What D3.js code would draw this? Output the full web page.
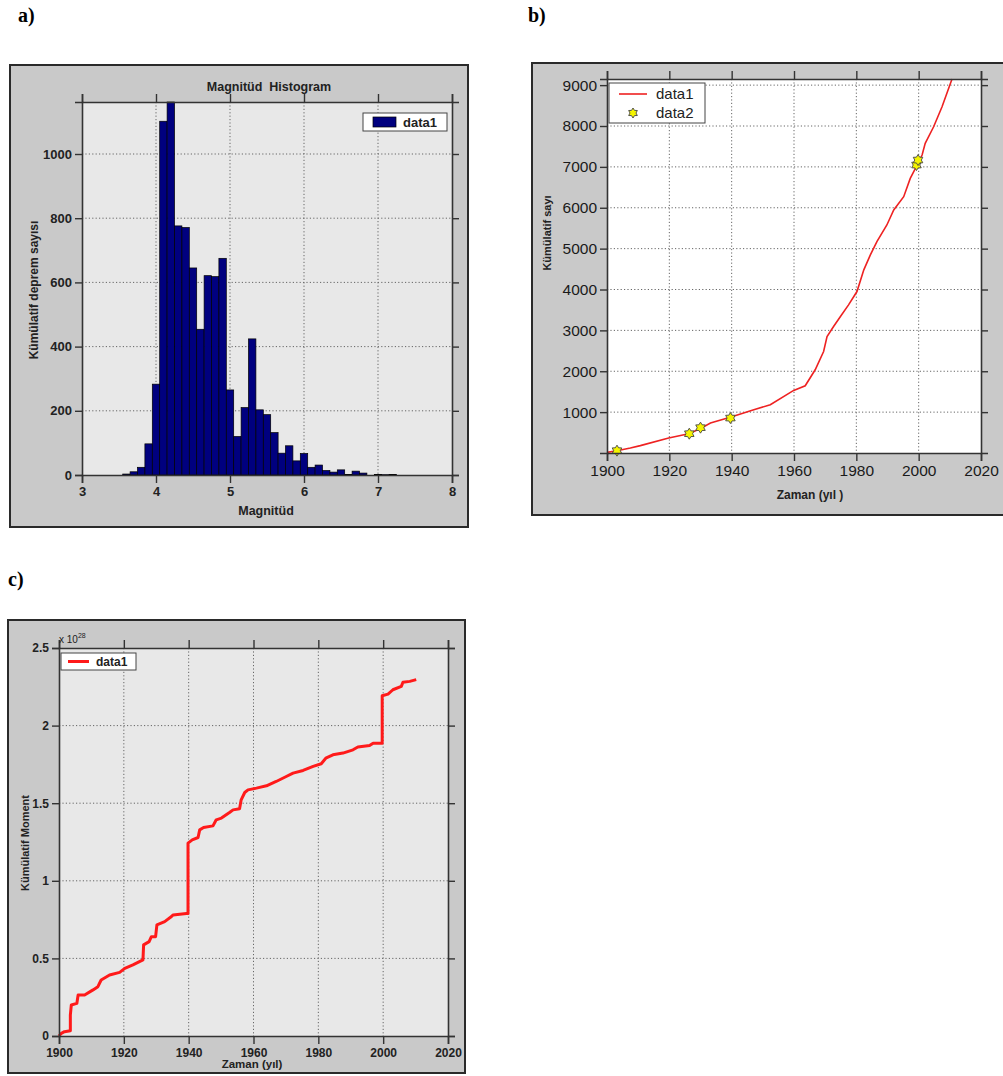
<!DOCTYPE html>
<html>
<head>
<meta charset="utf-8">
<script src="https://cdn.jsdelivr.net/npm/d3@7"></script>
<style>
  body { margin: 0; background: #fff; }
  svg text { font-family: "Liberation Sans", Arial, sans-serif; }
</style>
</head>
<body>
<svg id="fig" width="1003" height="1076"></svg>
<script>
// a) magnitude histogram (bin centres, counts)
const magCenters = [3.6,3.7,3.8,3.9,4.0,4.1,4.2,4.3,4.4,4.5,4.6,4.7,4.8,4.9,5.0,5.1,5.2,5.3,5.4,5.5,5.6,5.7,5.8,5.9,6.0,6.1,6.2,6.3,6.4,6.5,6.6,6.7,6.8,6.9,7.0,7.1,7.2];
const magCounts  = [3,10,24,97,283,1102,1162,776,771,645,454,621,618,675,265,120,210,424,203,188,132,68,91,44,67,24,31,14,9,16,2,12,6,0,2,1,2];
const magTicksX = [3,4,5,6,7,8];
const magTicksY = [0,200,400,600,800,1000];

// b) cumulative number of events
const cumYears  = [1900,1903.2,1907.5,1910.7,1919.8,1926.2,1929.9,1933.2,1939.8,1947.1,1952.4,1959.9,1963.6,1966.8,1969.5,1970.6,1972.7,1974.9,1977.5,1980.2,1982.4,1984.5,1986.6,1989.8,1992,1995.2,1997.3,1999.5,2001.1,2002.1,2004.8,2007.5,2010.7];
const cumCounts = [16,57,122,180,366,472,595,733,880,1059,1181,1531,1645,2036,2484,2850,3095,3339,3624,3950,4480,4846,5172,5579,5946,6271,6719,7045,7290,7575,7982,8470,9150];
const bigYears  = [1903.2,1926.4,1930,1939.6,1999.3,1999.8];
const bigCounts = [57,472,620,855,7045,7167];
const cumTicksX = [1900,1920,1940,1960,1980,2000,2020];
const cumTicksY = [1000,2000,3000,4000,5000,6000,7000,8000,9000];

// c) cumulative seismic moment (x 10^28)
const momYears  = [1900,1900.7,1901.7,1903.5,1903.5,1903.8,1905.5,1905.9,1907.9,1910.5,1912,1913,1915.6,1918.7,1920.3,1922.8,1925.9,1926.1,1927.8,1928.5,1929.8,1930.2,1932.6,1934.7,1935.2,1939.3,1939.8,1939.8,1941.1,1942.9,1943.4,1944.6,1947.5,1948.5,1950.1,1952.6,1953.7,1955.7,1956.2,1957.3,1958.3,1960.9,1964,1967,1970.1,1972.2,1975.3,1978.4,1980.9,1982.3,1984.5,1987.6,1990.7,1992.2,1995.8,1996.9,1999.7,1999.7,2001.5,2003,2005.6,2006.1,2008.2,2010.2];
const momValues = [0,0.017,0.028,0.034,0.135,0.2,0.21,0.264,0.264,0.297,0.318,0.361,0.393,0.41,0.436,0.458,0.49,0.587,0.608,0.64,0.64,0.716,0.737,0.77,0.78,0.79,0.79,1.243,1.264,1.279,1.328,1.343,1.354,1.393,1.404,1.44,1.457,1.464,1.522,1.569,1.586,1.597,1.612,1.64,1.672,1.694,1.711,1.737,1.754,1.79,1.812,1.823,1.844,1.862,1.872,1.887,1.887,2.192,2.203,2.231,2.253,2.279,2.285,2.296];
const momTicksX = [1900,1920,1940,1960,1980,2000,2020];
const momTicksY = [0,0.5,1,1.5,2,2.5];

const svg = d3.select('#fig')

// draws the grey figure box, plot area, grid, frame and outward ticks
function panel(o){
    let g = svg.append('g')
    g.append('rect')
        .attr('x', o.box[0]).attr('y', o.box[1])
        .attr('width', o.box[2]).attr('height', o.box[3])
        .attr('fill', '#c9c9c9').attr('stroke', '#2a2a2a').attr('stroke-width', 2)

    let x = d3.scaleLinear().domain(o.xd).range([o.l, o.r])
    let y = d3.scaleLinear().domain(o.yd).range([o.b, o.t])

    g.append('rect')
        .attr('x', o.l).attr('y', o.t)
        .attr('width', o.r - o.l).attr('height', o.b - o.t)
        .attr('fill', o.bg)

    // grid
    let grid = g.append('g').attr('stroke', '#666').attr('stroke-dasharray', '1.2,2.2').attr('stroke-width', 1)
    grid.selectAll('.gx').data(o.xt.filter(v => x(v) > o.l + 1 && x(v) < o.r - 1)).enter()
        .append('line')
        .attr('x1', d => x(d)).attr('x2', d => x(d))
        .attr('y1', o.t).attr('y2', o.b)
    grid.selectAll('.gy').data(o.yt.filter(v => y(v) > o.t + 1 && y(v) < o.b - 1)).enter()
        .append('line')
        .attr('y1', d => y(d)).attr('y2', d => y(d))
        .attr('x1', o.l).attr('x2', o.r)

    let marks = g.append('g')

    // axes, outward ticks on all four sides like the MATLAB box
    let fs = o.fs
    let bottom = g.append('g').attr('transform', 'translate(0,' + o.b + ')')
        .call(d3.axisBottom(x).tickValues(o.xt).tickSize(8).tickPadding(4).tickFormat(o.xf || d3.format('d')))
    let top = g.append('g').attr('transform', 'translate(0,' + o.t + ')')
        .call(d3.axisTop(x).tickValues(o.xt).tickSize(8).tickFormat(''))
    let left = g.append('g').attr('transform', 'translate(' + o.l + ',0)')
        .call(d3.axisLeft(y).tickValues(o.yt).tickSize(7).tickPadding(3).tickFormat(o.yf || d3.format('d')))
    let right = g.append('g').attr('transform', 'translate(' + o.r + ',0)')
        .call(d3.axisRight(y).tickValues(o.yt).tickSize(7).tickFormat(''))

    ;[bottom, top, left, right].forEach(a => {
        a.select('.domain').attr('stroke', '#333').attr('stroke-width', 1.6)
        a.selectAll('.tick line').attr('stroke', '#333').attr('stroke-width', 1.4)
        a.selectAll('text')
            .attr('fill', '#222')
            .style('font-size', fs + 'px')
            .style('font-weight', o.bold ? 'bold' : 'normal')
    })

    return {g: g, x: x, y: y, marks: marks}
}

// ---------- a) ----------
let pa = panel({box: [10, 65, 458, 462], l: 82, r: 452, t: 102, b: 475,
                xd: [3, 8], yd: [0, 1162], xt: magTicksX, yt: magTicksY,
                bg: '#e8e8e8', fs: 13, bold: true})

pa.marks.selectAll('rect')
    .data(magCenters.map((c, i) => ({c: c, n: magCounts[i]})).filter(d => d.n > 0))
    .enter()
    .append('rect')
    .attr('x', d => pa.x(d.c - 0.05))
    .attr('width', d => pa.x(d.c + 0.05) - pa.x(d.c - 0.05))
    .attr('y', d => pa.y(d.n))
    .attr('height', d => pa.y(0) - pa.y(d.n))
    .attr('fill', '#00007f')
    .attr('stroke', '#000')
    .attr('stroke-width', 0.7)

pa.g.append('text').attr('x', 269).attr('y', 91).attr('text-anchor', 'middle')
    .style('font-size', '12.5px').style('font-weight', 'bold').attr('fill', '#222')
    .attr('xml:space', 'preserve').text('Magnitüd  Histogram')
pa.g.append('text').attr('x', 266).attr('y', 515).attr('text-anchor', 'middle')
    .style('font-size', '12.5px').style('font-weight', 'bold').attr('fill', '#222')
    .text('Magnitüd')
pa.g.append('text').attr('transform', 'translate(38,290) rotate(-90)').attr('text-anchor', 'middle')
    .style('font-size', '12px').style('font-weight', 'bold').attr('fill', '#222')
    .text('Kümülatif deprem sayısı')

// legend a
pa.g.append('rect').attr('x', 363).attr('y', 113).attr('width', 84).attr('height', 18)
    .attr('fill', '#fff').attr('stroke', '#444')
pa.g.append('rect').attr('x', 373).attr('y', 117).attr('width', 23).attr('height', 10)
    .attr('fill', '#00007f').attr('stroke', '#000').attr('stroke-width', 0.7)
pa.g.append('text').attr('x', 403).attr('y', 127)
    .style('font-size', '13px').style('font-weight', 'bold').attr('fill', '#222').text('data1')

// ---------- b) ----------
let pb = panel({box: [532, 63, 480, 452], l: 607, r: 981, t: 79, b: 453,
                xd: [1900, 2020], yd: [0, 9150], xt: cumTicksX, yt: cumTicksY,
                bg: '#ffffff', fs: 15.5, bold: false})
pb.g.selectAll('text').attr('fill', '#1a1a1a')

pb.marks.append('path')
    .datum(cumYears.map((yr, i) => [yr, cumCounts[i]]))
    .attr('fill', 'none').attr('stroke', '#ee2222').attr('stroke-width', 1.6)
    .attr('d', d3.line().x(d => pb.x(d[0])).y(d => pb.y(d[1])))

const hexagram = (r) => {
    let p = d3.path()
    for (let k = 0; k < 12; k++) {
        let a = -Math.PI / 2 + k * Math.PI / 6
        let rr = k % 2 === 0 ? r : r * 0.6
        let px = rr * Math.cos(a), py = rr * Math.sin(a)
        if (k === 0) p.moveTo(px, py); else p.lineTo(px, py)
    }
    p.closePath()
    return p.toString()
}

pb.marks.selectAll('.star')
    .data(bigYears.map((yr, i) => [yr, bigCounts[i]]))
    .enter()
    .append('path')
    .attr('transform', d => 'translate(' + pb.x(d[0]) + ',' + pb.y(d[1]) + ')')
    .attr('d', hexagram(5.5))
    .attr('fill', '#f5f500').attr('stroke', '#444').attr('stroke-width', 0.9)

pb.g.append('text').attr('x', 810).attr('y', 499).attr('text-anchor', 'middle')
    .style('font-size', '12px').style('font-weight', 'bold').attr('fill', '#222')
    .text('Zaman (yıl )')
pb.g.append('text').attr('transform', 'translate(551,233) rotate(-90)').attr('text-anchor', 'middle')
    .style('font-size', '11px').style('font-weight', 'bold').attr('fill', '#222')
    .text('Kümülatif sayı')

// legend b
pb.g.append('rect').attr('x', 609).attr('y', 83).attr('width', 96).attr('height', 40)
    .attr('fill', '#fff').attr('stroke', '#444')
pb.g.append('line').attr('x1', 619).attr('x2', 647).attr('y1', 94).attr('y2', 94)
    .attr('stroke', '#ee2222').attr('stroke-width', 1.6)
pb.g.append('path').attr('transform', 'translate(633,113)').attr('d', hexagram(5))
    .attr('fill', '#f5f500').attr('stroke', '#444').attr('stroke-width', 0.9)
pb.g.append('text').attr('x', 656).attr('y', 99)
    .style('font-size', '15px').attr('fill', '#222').text('data1')
pb.g.append('text').attr('x', 656).attr('y', 118)
    .style('font-size', '15px').attr('fill', '#222').text('data2')

// ---------- c) ----------
let pc = panel({box: [8, 620, 457, 453], l: 59, r: 448, t: 648, b: 1036,
                xd: [1900, 2020], yd: [0, 2.5], xt: momTicksX, yt: momTicksY,
                bg: '#e8e8e8', fs: 12, bold: true, yf: d3.format('')})

pc.marks.append('path')
    .datum(momYears.map((yr, i) => [yr, momValues[i]]))
    .attr('fill', 'none').attr('stroke', '#ff1a1a').attr('stroke-width', 3)
    .attr('stroke-linejoin', 'round')
    .attr('d', d3.line().x(d => pc.x(d[0])).y(d => pc.y(d[1])))

let expo = pc.g.append('text').attr('x', 59).attr('y', 643)
    .style('font-size', '10px').attr('fill', '#222')
expo.append('tspan').text('x 10')
expo.append('tspan').attr('dy', -5).style('font-size', '7px').text('28')

pc.g.append('text').attr('x', 252).attr('y', 1068).attr('text-anchor', 'middle')
    .style('font-size', '11.5px').style('font-weight', 'bold').attr('fill', '#222')
    .text('Zaman (yıl)')
pc.g.append('text').attr('transform', 'translate(29,843) rotate(-90)').attr('text-anchor', 'middle')
    .style('font-size', '11px').style('font-weight', 'bold').attr('fill', '#222')
    .text('Kümülatif Moment')

// legend c
pc.g.append('rect').attr('x', 61).attr('y', 653).attr('width', 75).attr('height', 17)
    .attr('fill', '#fff').attr('stroke', '#444')
pc.g.append('line').attr('x1', 68).attr('x2', 89).attr('y1', 661.5).attr('y2', 661.5)
    .attr('stroke', '#ff1a1a').attr('stroke-width', 3)
pc.g.append('text').attr('x', 96).attr('y', 666)
    .style('font-size', '12px').style('font-weight', 'bold').attr('fill', '#222').text('data1')

// panel letters
const letters = [['a)', 18, 22], ['b)', 528, 22], ['c)', 8, 586]]
svg.selectAll('.letter').data(letters).enter()
    .append('text')
    .attr('x', d => d[1]).attr('y', d => d[2])
    .style('font-family', '"Liberation Serif", "Times New Roman", serif')
    .style('font-size', '20px').style('font-weight', 'bold')
    .text(d => d[0])
</script>
</body>
</html>
